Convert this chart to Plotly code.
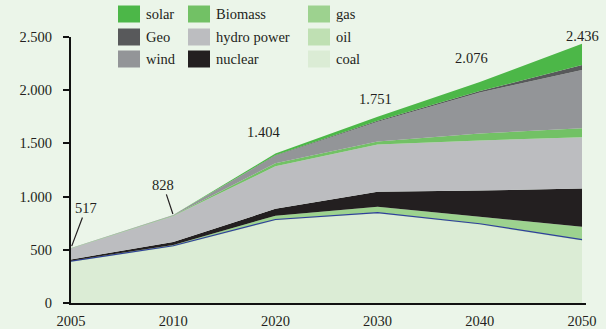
import plotly.graph_objects as go

# Installed capacity by source (stacked), index positions along a category axis
years = ["2005", "2010", "2020", "2030", "2040", "2050"]
coal = [385, 528, 775, 840, 735, 585]
oil = [8, 10, 10, 10, 10, 10]
gas = [5, 8, 35, 55, 65, 122]
nuclear = [12, 27, 65, 140, 247, 358]
hydro = [102, 245, 400, 445, 471, 482]
biomass = [3, 5, 28, 28, 66, 85]
wind = [1, 3, 70, 185, 385, 547]
geo = [0.5, 1, 5, 10, 13, 47]
solar = [0.5, 1, 16, 38, 84, 200]

colors = {
    "coal": "#dbecd5", "oil": "#bfe0b3", "gas": "#9dd28f",
    "nuclear": "#231f20", "hydro power": "#bcbdc0", "Biomass": "#72c165",
    "wind": "#939598", "Geo": "#58595b", "solar": "#4cb748",
}
stack = [("coal", coal), ("oil", oil), ("gas", gas), ("nuclear", nuclear),
         ("hydro power", hydro), ("Biomass", biomass), ("wind", wind),
         ("Geo", geo), ("solar", solar)]
totals = [round(sum(v)) for v in zip(*[s[1] for s in stack])]

# legend layout: columns of names
legend_cols = [["solar", "Geo", "wind"], ["Biomass", "hydro power", "nuclear"], ["gas", "oil", "coal"]]

BG = "#ebf5e9"
FONT = "Liberation Serif"

W, H = 606, 329
L, R, T, B = 71, 20, 37, 26
PW, PH = W - L - R, H - T - B

def px(x):
    return (x - L) / PW

def py(y):
    return (H - B - y) / PH

fig = go.Figure()
for name, vals in stack:
    if name == "oil":
        line = dict(width=1.2, color="#2f3f9c")
    else:
        line = dict(width=0, color=colors[name])
    fig.add_trace(go.Scatter(
        x=years, y=vals, name=name, stackgroup="one", mode="lines",
        line=line, fillcolor=colors[name], showlegend=False,
    ))

def fmt(v):
    return f"{v:,}".replace(",", ".")

# total labels; the first two have leader lines
fig.add_annotation(x=0, y=totals[0], text=fmt(totals[0]), showarrow=True, arrowhead=0,
                   arrowwidth=1.2, arrowcolor="#231f20", ax=15, ay=-40, standoff=2)
fig.add_annotation(x=1, y=totals[1], text=fmt(totals[1]), showarrow=True, arrowhead=0,
                   arrowwidth=1.2, arrowcolor="#231f20", ax=-10, ay=-30, standoff=1)
label_shift = {2: (-12, 22), 3: (-2, 18), 4: (-8, 24), 5: (0, 8)}
for i, (dx, dy) in label_shift.items():
    fig.add_annotation(x=i, y=totals[i], text=fmt(totals[i]), showarrow=False,
                       xshift=dx, yshift=dy)

# legend drawn as swatches + labels
col_x = [118, 188, 308]
row_y = [14, 37, 59]
for ci, names in enumerate(legend_cols):
    for ri, name in enumerate(names):
        x0 = col_x[ci]
        yc = row_y[ri]
        fig.add_shape(type="rect", xref="paper", yref="paper",
                      x0=px(x0), x1=px(x0 + 22), y0=py(yc - 8.5), y1=py(yc + 8.5),
                      fillcolor=colors[name], line=dict(width=0), layer="above")
        fig.add_annotation(xref="paper", yref="paper", x=px(x0 + 26), y=py(yc),
                           xanchor="left", yanchor="middle", text=name, showarrow=False,
                           font=dict(size=14.5, color="#231f20", family=FONT))

fig.update_layout(
    width=W, height=H, margin=dict(l=L, r=R, t=T, b=B),
    paper_bgcolor=BG, plot_bgcolor=BG, separators=",.",
    font=dict(family=FONT, size=14.5, color="#231f20"),
    showlegend=False,
)
fig.update_xaxes(type="category", range=[0, 5.039], showline=True, linecolor="#111",
                 linewidth=2, ticks="", showgrid=False, zeroline=False, automargin=False,
                 ticklabelstandoff=4, tickfont=dict(size=14.5))
fig.update_yaxes(range=[0, 2500], tickvals=[0, 500, 1000, 1500, 2000, 2500],
                 tickformat=",d", showline=True, linecolor="#111", linewidth=2,
                 ticks="outside", ticklen=6, tickwidth=2, tickcolor="#111",
                 showgrid=False, zeroline=False, ticklabelstandoff=8, automargin=False,
                 tickfont=dict(size=14.5))

fig.write_html("out.html")
